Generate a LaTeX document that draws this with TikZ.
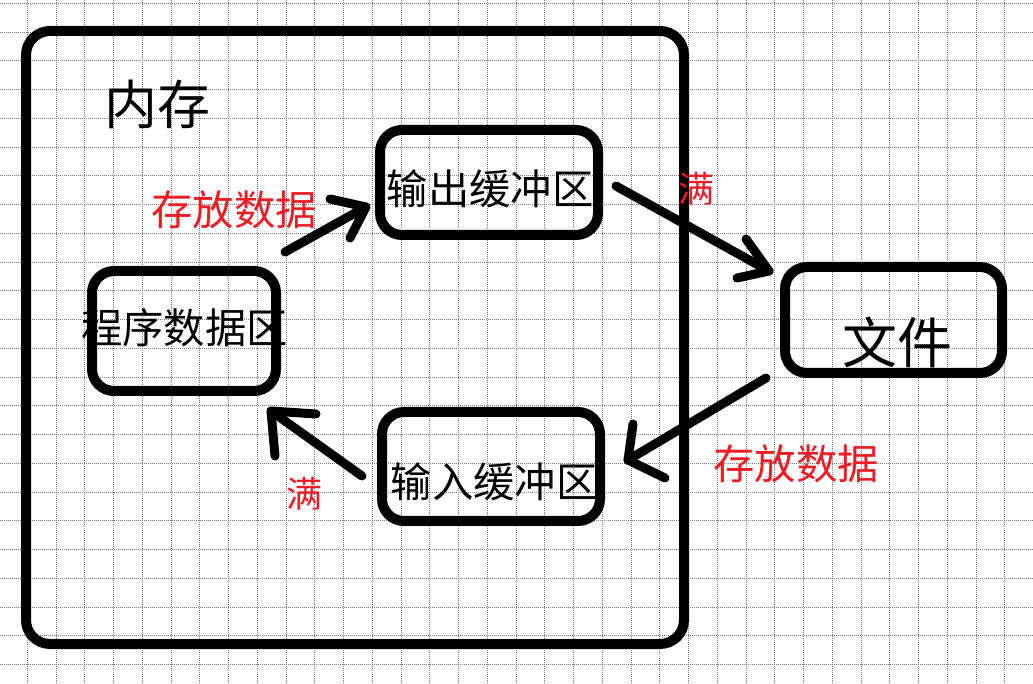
\documentclass[tikz,border=0pt]{standalone}
\usepackage{fontspec}
\newfontfamily\cjk{Noto Sans CJK SC}
\definecolor{paintred}{RGB}{237,28,36}
\definecolor{gridgray}{RGB}{125,125,125}
\begin{document}
\begin{tikzpicture}[x=0.75pt,y=-0.75pt,
  box/.style={draw=black,line width=7.5pt,rounded corners=16.5pt,inner sep=0pt,outer sep=0pt},
  lbl/.style={inner sep=0pt,outer sep=0pt,text=black,font=\cjk\fontsize{31pt}{31pt}\selectfont},
  redlbl/.style={inner sep=0pt,outer sep=0pt,text=paintred,font=\cjk\fontsize{31pt}{31pt}\selectfont},
  stroke/.style={draw=black,line width=6.75pt,line cap=round,line join=round},
  gridline/.style={draw=gridgray,line width=0.75pt,dash pattern=on 0.75pt off 0.75pt}]
\useasboundingbox (0,0) rectangle (1033,684);
\fill[white] (0,0) rectangle (1033,684);
% grid
\foreach \k in {1,...,36} {\draw[gridline] ({-1.3+28.75*\k},0) -- ({-1.3+28.75*\k},684);}
\foreach \k in {0,...,23} {\draw[gridline] (0,{3.3+28.75*\k}) -- (1033,{3.3+28.75*\k});}
% boxes
\node[box,minimum width=658*0.75pt,minimum height=613*0.75pt,rounded corners=18pt] (mem) at (355,337.5) {};
\node[box,minimum width=218*0.75pt,minimum height=105*0.75pt] (outbuf) at (489,182.5) {};
\node[box,minimum width=184*0.75pt,minimum height=120*0.75pt] (prog) at (184,331) {};
\node[box,minimum width=218*0.75pt,minimum height=109*0.75pt] (inbuf) at (491,466.5) {};
\node[box,minimum width=217*0.75pt,minimum height=106*0.75pt] (file) at (893.5,320) {};
% texts
\node[lbl,font=\cjk\fontsize{39.75pt}{39.75pt}\selectfont] (memt) at (157,104) {内存};
\node[lbl] (outt) at (490,189) {输出缓冲区};
\node[lbl] (progt) at (184.5,328) {程序数据区};
\node[lbl] (int) at (494,481.5) {输入缓冲区};
\node[lbl,font=\cjk\fontsize{41.25pt}{41.25pt}\selectfont] (filet) at (897,342) {文件};
\node[redlbl] (store1) at (234,210) {存放数据};
\node[redlbl] (store2) at (796,463.5) {存放数据};
\node[redlbl,font=\cjk\fontsize{27pt}{27pt}\selectfont] (full1) at (696,189) {满};
\node[redlbl,font=\cjk\fontsize{27pt}{27pt}\selectfont] (full2) at (304,494) {满};
% arrow 1: program data -> output buffer
\coordinate (a1s) at (285,252); \coordinate (a1t) at (366,207);
\coordinate (a1u) at (330,199); \coordinate (a1l) at (350,238);
\draw[stroke] (a1s) -- (a1t);
\draw[stroke] (a1u) -- (a1t) -- (a1l);
% arrow 2: output buffer -> file
\coordinate (a2s) at (616,186); \coordinate (a2t) at (769,271);
\coordinate (a2u) at (746,239); \coordinate (a2l) at (737,278);
\draw[stroke] (a2s) -- (a2t);
\draw[stroke] (a2u) -- (a2t) -- (a2l);
% arrow 3: file -> input buffer
\coordinate (a3s) at (766,378); \coordinate (a3t) at (628,460);
\coordinate (a3u) at (633,424); \coordinate (a3l) at (665,478);
\draw[stroke] (a3s) -- (a3t);
\draw[stroke] (a3u) -- (a3t) -- (a3l);
% arrow 4: input buffer -> program data
\coordinate (a4s) at (362,476); \coordinate (a4t) at (271,411);
\coordinate (a4u) at (316,414); \coordinate (a4l) at (275,456);
\draw[stroke] (a4s) -- (a4t);
\draw[stroke] (a4u) -- (a4t) -- (a4l);
\end{tikzpicture}
\end{document}
